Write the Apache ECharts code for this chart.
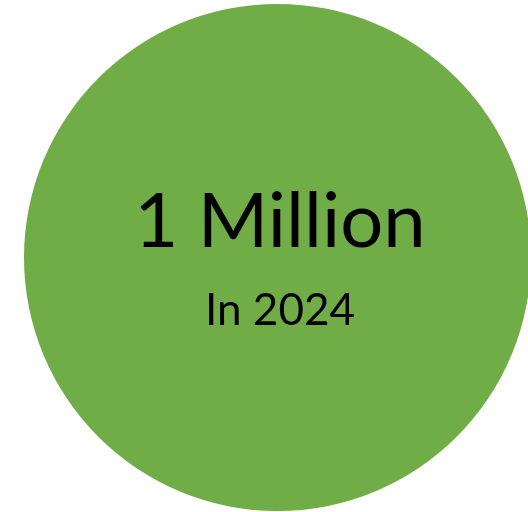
<!DOCTYPE html>
<html>
<head>
<meta charset="utf-8">
<script src="https://cdn.jsdelivr.net/npm/echarts@6/dist/echarts.min.js"></script>
<style>html,body{margin:0;padding:0;background:#fff;}#c{width:528px;height:512px;}</style>
</head>
<body>
<div id="c"></div>
<script>
const categories = ['1 Million'];
const subtitles = ['In 2024'];
const values = [1];

const chart = echarts.init(document.getElementById('c'), null, {renderer: 'canvas'});
chart.setOption({
  animation: false,
  backgroundColor: '#ffffff',
  series: [{
    type: 'pie',
    center: [277.5, 257.5],
    radius: 253.5,
    silent: true,
    label: {show: false},
    labelLine: {show: false},
    itemStyle: {color: '#70AD47', borderWidth: 0},
    data: categories.map((c, i) => ({name: c, value: values[i]}))
  }],
  graphic: {
    elements: [
      {type: 'text', x: 280, y: 222, z: 100, style: {text: categories[0], fill: '#000000', fontSize: 76, fontFamily: 'Lato', textAlign: 'center', textVerticalAlign: 'middle'}},
      {type: 'text', x: 280, y: 311, z: 100, style: {text: subtitles[0], fill: '#000000', fontSize: 44, fontFamily: 'Lato', textAlign: 'center', textVerticalAlign: 'middle'}}
    ]
  }
});
</script>
</body>
</html>
